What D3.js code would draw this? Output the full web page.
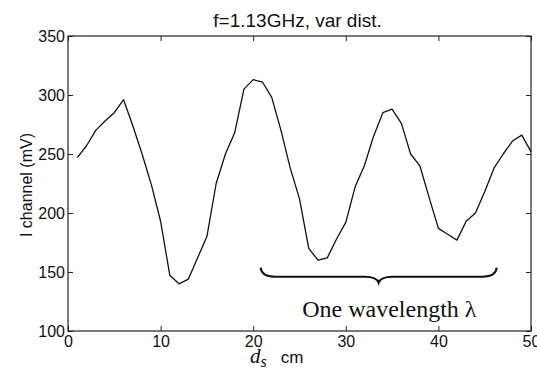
<!DOCTYPE html>
<html>
<head>
<meta charset="utf-8">
<script src="https://cdn.jsdelivr.net/npm/d3@7"></script>
<style>
  html, body { margin: 0; padding: 0; background: #fff; }
  svg { display: block; }
  .tick-label { font-family: Arial, "Liberation Sans", sans-serif; font-size: 16px; fill: #111; }
</style>
</head>
<body>
<div id="chart"></div>
<script>
// Measured I channel along the distance d_s
const distances = [1, 2, 3, 4, 5, 6, 7, 8, 9, 10, 11, 12, 13, 14, 15, 16, 17, 18, 19, 20, 21, 22, 23, 24, 25,
                   26, 27, 28, 29, 30, 31, 32, 33, 34, 35, 36, 37, 38, 39, 40, 41, 42, 43, 44, 45, 46, 47, 48, 49, 50];
const iChannel = [247, 257, 270, 278, 285, 296, 274, 250, 224, 193, 147, 140, 144, 162, 180, 225, 250, 268, 305, 313, 311, 298, 270, 238, 212,
                  170, 160, 162, 178, 192, 222, 240, 265, 285, 288, 276, 250, 240, 213, 187, 182, 177, 193, 200, 218, 238, 250, 261, 266, 252];

const xTicks = [0, 10, 20, 30, 40, 50];
const yTicks = [100, 150, 200, 250, 300, 350];

// brace annotation (data units)
const braceFrom = 20.8, braceTo = 46.3, braceLevel = 146;
const annotation = "One wavelength \u03bb";

const W = 537, H = 372;
const margin = { top: 36, right: 6, bottom: 41, left: 68 };
const width = W - margin.left - margin.right;
const height = H - margin.top - margin.bottom;

const svg = d3.select("#chart").append("svg")
    .attr("width", W).attr("height", H);

const g = svg.append("g").attr("transform", `translate(${margin.left},${margin.top})`);

const x = d3.scaleLinear().domain([0, 50]).range([0, width]);
const y = d3.scaleLinear().domain([100, 350]).range([height, 0]);

// box frame
g.append("rect")
    .attr("x", 0).attr("y", 0).attr("width", width).attr("height", height)
    .attr("fill", "none").attr("stroke", "#222").attr("stroke-width", 1.2);

// inward ticks on all 4 sides (matlab style)
const tl = 5;
const xb = g.append("g").attr("transform", `translate(0,${height})`)
    .call(d3.axisBottom(x).tickValues(xTicks).tickSize(-tl).tickPadding(8).tickFormat(d3.format("d")));
const xt = g.append("g").call(d3.axisTop(x).tickValues(xTicks).tickSize(-tl).tickFormat(""));
const yl = g.append("g")
    .call(d3.axisLeft(y).tickValues(yTicks).tickSize(-tl).tickPadding(8).tickFormat(d3.format("d")));
const yr = g.append("g").attr("transform", `translate(${width},0)`)
    .call(d3.axisRight(y).tickValues(yTicks).tickSize(-tl).tickFormat(""));

[xb, xt, yl, yr].forEach(a => {
    a.select(".domain").remove();
    a.selectAll("line").attr("stroke", "#222");
    a.selectAll("text").attr("class", "tick-label").attr("font-size", null).attr("font-family", null).attr("fill", null);
});
xb.selectAll("text").attr("dy", "0.71em").attr("y", 5);
yl.selectAll("text").attr("x", -3).attr("dy", "0.36em");

// data line
const line = d3.line().x((d, i) => x(distances[i])).y(d => y(d));
g.append("path")
    .datum(iChannel)
    .attr("fill", "none")
    .attr("stroke", "#111")
    .attr("stroke-width", 1.3)
    .attr("stroke-linejoin", "round")
    .attr("d", line);

// curly brace
const bx0 = x(braceFrom), bx1 = x(braceTo), by = y(braceLevel);
const bm = (bx0 + bx1) / 2;
const r = 14;
const bracePath = d3.path();
bracePath.moveTo(bx0, by - 9);
bracePath.quadraticCurveTo(bx0 + 1, by, bx0 + r, by);
bracePath.lineTo(bm - r, by);
bracePath.quadraticCurveTo(bm - 2, by, bm, by + 6);
bracePath.quadraticCurveTo(bm + 2, by, bm + r, by);
bracePath.lineTo(bx1 - r, by);
bracePath.quadraticCurveTo(bx1 - 1, by, bx1, by - 9);
g.append("path")
    .attr("d", bracePath.toString())
    .attr("fill", "none")
    .attr("stroke", "#111")
    .attr("stroke-width", 2);

g.append("text")
    .attr("x", x(34.7)).attr("y", y(112))
    .attr("text-anchor", "middle")
    .attr("font-family", "'Liberation Serif', 'Times New Roman', serif")
    .attr("font-size", 24)
    .attr("fill", "#111")
    .text(annotation);

// title
svg.append("text")
    .attr("x", 297.5).attr("y", 27)
    .attr("text-anchor", "middle")
    .attr("font-family", "Arial, 'Liberation Sans', sans-serif")
    .attr("font-size", 19)
    .attr("fill", "#111")
    .text("f=1.13GHz, var dist.");

// y label
svg.append("text")
    .attr("transform", `translate(32,${185}) rotate(-90)`)
    .attr("text-anchor", "middle")
    .attr("font-family", "Arial, 'Liberation Sans', sans-serif")
    .attr("font-size", 16)
    .attr("fill", "#111")
    .text("I channel (mV)");

// x label: italic d with subscript s, then cm
const xlab = svg.append("text")
    .attr("x", 250).attr("y", 363)
    .attr("fill", "#111");
xlab.append("tspan")
    .attr("font-family", "'Liberation Serif', 'Times New Roman', serif")
    .attr("font-style", "italic").attr("font-size", 21)
    .text("d");
xlab.append("tspan")
    .attr("font-family", "'Liberation Serif', 'Times New Roman', serif")
    .attr("font-style", "italic").attr("font-size", 16)
    .attr("dy", 4)
    .text("s");
xlab.append("tspan")
    .attr("font-family", "Arial, 'Liberation Sans', sans-serif")
    .attr("font-size", 17)
    .attr("dy", -4).attr("dx", 14)
    .text("cm");
</script>
</body>
</html>
